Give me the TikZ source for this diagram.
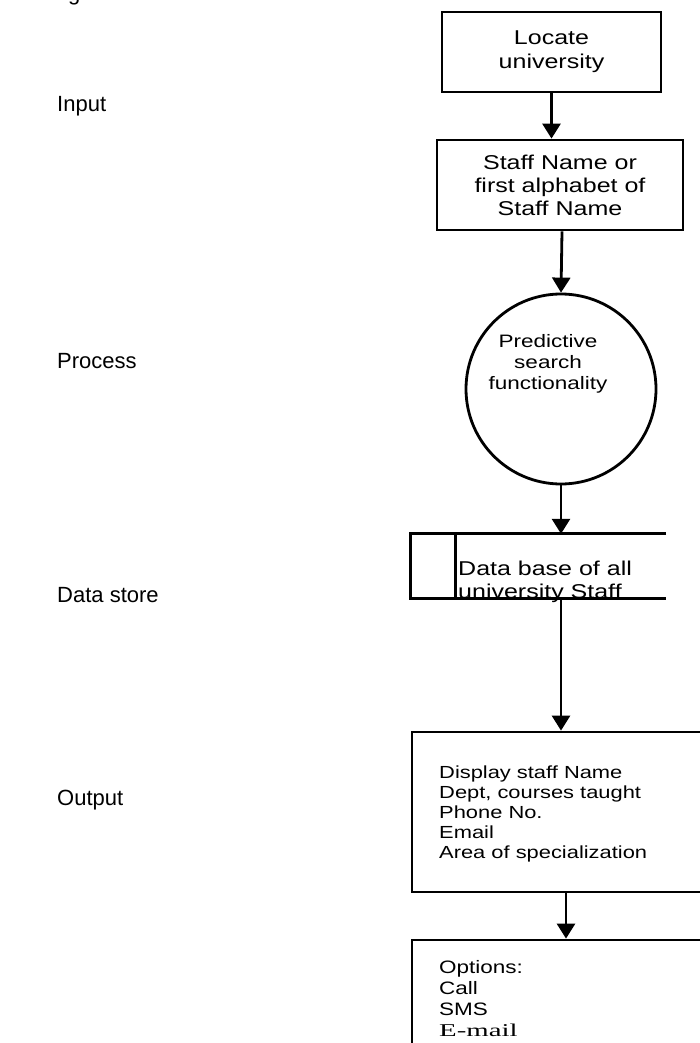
\documentclass[tikz,border=0pt]{standalone}
\usepackage{fontspec}
\setmainfont{Liberation Sans}
\newfontfamily\boxfont[FakeStretch=1.25]{Liberation Sans}
\newfontfamily\mailfont[FakeStretch=1.6]{Liberation Serif}
\usetikzlibrary{arrows.meta,positioning}

\tikzset{
  flowbox/.style={draw, line width=2.8pt, rectangle, inner sep=0pt},
  flowarrow/.style={line width=2.8pt, -{Triangle[width=18pt,length=15pt]}},
  sidelabel/.style={anchor=base west, inner sep=0pt, font=\fontsize{22}{26}\selectfont},
  boxtext/.style={inner sep=0pt, align=left, anchor=north west},
}

\begin{document}
\begin{tikzpicture}[x=1pt,y=-1pt]
        \useasboundingbox (0,0) rectangle (699,1043);
        % side labels
        \node[sidelabel] (headfrag) at (68,1) {g};
        \node[sidelabel] (inputlab) at (57,112) {Input};
        \node[sidelabel] (processlab) at (57,368) {Process};
        \node[sidelabel] (storelab) at (57,602) {Data store};
        \node[sidelabel] (outputlab) at (57,805) {Output};
        % flow
        \node[flowbox, minimum width=219pt, minimum height=80pt, align=center,
              font=\boxfont\fontsize{20}{24}\selectfont] (locate) at (551.5,52) {Locate\\university};
        \node[flowbox, minimum width=246pt, minimum height=90pt, align=center,
              font=\boxfont\fontsize{20}{23}\selectfont] (staff) at (560,185) {Staff Name or\\first alphabet of\\Staff Name};
        \node[circle, draw, line width=2.8pt, minimum size=190pt, inner sep=0pt] (predict) at (561,389) {};
        \node[align=center, inner sep=0pt, font=\boxfont\fontsize{18}{21}\selectfont] (predicttext) at (548,364) {Predictive\\search\\functionality};
        \node[minimum width=255pt, minimum height=64pt, inner sep=0pt] (store) at (538.5,566) {};
        \draw[line width=2.8pt] (store.north east) -- (store.north west) -- (store.south west) -- (store.south east);
        \draw[line width=2.8pt] ([xshift=45pt]store.north west) -- ([xshift=45pt]store.south west);
        \node[boxtext, font=\boxfont\fontsize{20}{23}\selectfont] (storetext) at (458,561) {Data base of all\\university Staff};
        \node[flowbox, minimum width=308pt, minimum height=160pt] (display) at (566,812) {};
        \node[boxtext, font=\boxfont\fontsize{17.5}{20}\selectfont] (displaytext) at (439,766) {Display staff Name\\Dept, courses taught\\Phone No.\\Email\\Area of specialization};
        \node[flowbox, minimum width=308pt, minimum height=130pt] (options) at (566,1005) {};
        \node[boxtext, font=\boxfont\fontsize{18}{21}\selectfont] (optionstext) at (439,960) {Options:\\Call\\SMS\\{\mailfont E-mail}};
        % arrows
        \draw[flowarrow] (locate.south) -- (locate.south |- staff.north);
        \draw[flowarrow] ([xshift=2pt]staff.south) -- (predict.north);
        \draw[flowarrow] (predict.south) -- (predict.south |- store.north);
        \draw[flowarrow] (predict.south |- store.south) -- (predict.south |- display.north);
        \draw[flowarrow] (display.south) -- (options.north);
\end{tikzpicture}
\end{document}
